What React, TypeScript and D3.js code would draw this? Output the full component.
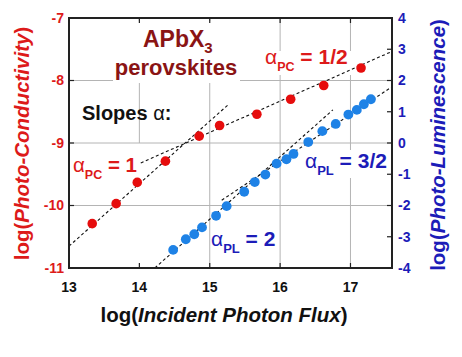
import React from "react";
import * as d3 from "d3";

// Photo-conductivity (left axis)
const pcFlux = [13.33, 13.67, 13.97, 14.37, 14.85, 15.14, 15.67, 16.15, 16.62, 17.15];
const pcLog = [-10.29, -9.97, -9.63, -9.29, -8.89, -8.72, -8.54, -8.3, -8.08, -7.8];

// Photo-luminescence (right axis)
const plFlux = [14.48, 14.66, 14.78, 14.89, 15.09, 15.24, 15.49, 15.64, 15.79, 15.95, 16.09, 16.19, 16.4, 16.6, 16.79, 16.97, 17.09, 17.19, 17.29];
const plLog = [-3.42, -3.08, -2.92, -2.7, -2.33, -2.02, -1.56, -1.25, -1.01, -0.66, -0.52, -0.35, 0.03, 0.38, 0.61, 0.91, 1.06, 1.24, 1.4];

// Power-law fit guides
const fitAxis = ["PC", "PC", "PL", "PL"];
const fitAlpha = [1, 0.5, 2, 1.5];
const fitStartX = [13, 14.02, 14.22, 15.17];
const fitStartY = [-10.65, -9.32, -4, -1.83];
const fitEndX = [15.27, 17.59, 16.75, 17.59];

const xTicks = [13, 14, 15, 16, 17];
const leftTicks = [-11, -10, -9, -8, -7];
const rightTicks = [-4, -3, -2, -1, 0, 1, 2, 3, 4];
const xGrid = [14, 15, 16, 17];
const leftGrid = [-10, -9, -8];

const FONT = "'Liberation Sans', Arial, Helvetica, sans-serif";
const RED = "#dd1a1a";
const RED_PT = "#e60d0d";
const BLUE_TXT = "#1c1cb8";
const BLUE_PT = "#1e82e6";
const MAROON = "#8a1414";

export default function App() {
  const x = d3.scaleLinear().domain([13, 17.59]).range([69, 392]);
  const yL = d3.scaleLinear().domain([-11, -7]).range([268, 18]);
  const yR = d3.scaleLinear().domain([-4, 4]).range([268, 18]);
  const [x0, x1] = x.range();
  const [yb, yt] = yL.range();

  const line = d3.line<[number, number]>();

  return (
    <svg
      width={462}
      height={357}
      style={{ position: "absolute", left: 0, top: 0, background: "#fff" }}
      fontFamily={FONT}
    >
      <rect x={0} y={0} width={462} height={357} fill="#fff" />
      {/* gridlines */}
      {xGrid.map((v) => (
        <line
          key={"gx" + v}
          x1={x(v)}
          x2={x(v)}
          y1={yt}
          y2={v === 14 ? yL(-9) : yb}
          stroke="#b4b4b4"
          strokeWidth={1}
        />
      ))}
      {leftGrid.map((v) => (
        <line key={"gy" + v} x1={x0} x2={x1} y1={yL(v)} y2={yL(v)} stroke="#b4b4b4" strokeWidth={1} />
      ))}
      {/* label backgrounds */}
      <rect x={113} y={21} width={127} height={62} fill="#fff" />
      <rect x={261} y={51} width={90} height={24} fill="#fff" />
      <rect x={302} y={150} width={89} height={28} fill="#fff" />

      {/* fit lines */}
      {fitAlpha.map((a, i) => {
        const ys = fitAxis[i] === "PC" ? yL : yR;
        const yEnd = fitStartY[i] + a * (fitEndX[i] - fitStartX[i]);
        const d = line([
          [x(fitStartX[i]), ys(fitStartY[i])],
          [x(fitEndX[i]), ys(yEnd)],
        ]);
        return <path key={"fit" + i} d={d || ""} stroke="#111" strokeWidth={1.1} strokeDasharray="3,2.5" fill="none" />;
      })}

      {/* points */}
      {pcFlux.map((f, i) => (
        <circle key={"pc" + i} cx={x(f)} cy={yL(pcLog[i])} r={4.8} fill={RED_PT} />
      ))}
      {plFlux.map((f, i) => (
        <circle key={"pl" + i} cx={x(f)} cy={yR(plLog[i])} r={4.9} fill={BLUE_PT} />
      ))}

      {/* frame */}
      <rect x={x0} y={yt} width={x1 - x0} height={yb - yt} fill="none" stroke="#222" strokeWidth={2} />

      {/* ticks */}
      {xTicks.map((v) => (
        <g key={"xt" + v}>
          <line x1={x(v)} x2={x(v)} y1={yb} y2={yb - 5} stroke="#222" strokeWidth={1.2} />
          <line x1={x(v)} x2={x(v)} y1={yt} y2={yt + 5} stroke="#222" strokeWidth={1.2} />
          <text x={x(v)} y={292} textAnchor="middle" fontSize={14} fontWeight="bold" fill="#111">
            {v}
          </text>
        </g>
      ))}
      {leftTicks.map((v) => (
        <g key={"lt" + v}>
          <line x1={x0} x2={x0 + 5} y1={yL(v)} y2={yL(v)} stroke="#222" strokeWidth={1.2} />
          <text x={64} y={yL(v)} dy="0.35em" textAnchor="end" fontSize={14} fontWeight="bold" fill={RED}>
            {v}
          </text>
        </g>
      ))}
      {rightTicks.map((v) => (
        <g key={"rt" + v}>
          <line x1={x1} x2={x1 - 5} y1={yR(v)} y2={yR(v)} stroke="#222" strokeWidth={1.2} />
          <text x={398} y={yR(v)} dy="0.35em" textAnchor="start" fontSize={14} fontWeight="bold" fill={BLUE_TXT}>
            {v}
          </text>
        </g>
      ))}

      {/* axis titles */}
      <text x={224} y={322} textAnchor="middle" fontSize={20.5} fontWeight="bold" fill="#111">
        log(<tspan fontStyle="italic">Incident Photon Flux</tspan>)
      </text>
      <text
        transform={`translate(29,143.5) rotate(-90)`}
        textAnchor="middle"
        fontSize={20.5}
        fontWeight="bold"
        fill={RED}
      >
        log(<tspan fontStyle="italic">Photo-Conductivity</tspan>)
      </text>
      <text
        transform={`translate(445,145) rotate(-90)`}
        textAnchor="middle"
        fontSize={20.5}
        fontWeight="bold"
        fill={BLUE_TXT}
      >
        log(<tspan fontStyle="italic">Photo-Luminescence</tspan>)
      </text>

      {/* annotations */}
      <text x={143} y={47} fontSize={23} fontWeight="bold" fill={MAROON}>
        APbX<tspan fontSize={15} dy={6}>3</tspan>
      </text>
      <text x={176} y={75} textAnchor="middle" fontSize={22} fontWeight="bold" fill={MAROON}>
        perovskites
      </text>
      <text x={82} y={120} fontSize={20} fontWeight="bold" fill="#111">
        Slopes <tspan fontWeight="normal">α</tspan>:
      </text>

      <text x={265} y={63.5} fontSize={21} fontWeight="bold" fill={RED}>
        <tspan fontWeight="normal">α</tspan>
        <tspan fontSize={12.5} dy={7}>PC</tspan>
        <tspan dy={-7}> = 1/2</tspan>
      </text>
      <text x={73} y={171.5} fontSize={20.5} fontWeight="bold" fill={RED}>
        <tspan fontWeight="normal">α</tspan>
        <tspan fontSize={12.5} dy={7}>PC</tspan>
        <tspan dy={-7}> = 1</tspan>
      </text>
      <text x={305} y={167.5} fontSize={21} fontWeight="bold" fill={BLUE_TXT}>
        <tspan fontWeight="normal">α</tspan>
        <tspan fontSize={13} dy={7}>PL</tspan>
        <tspan dy={-7}> = 3/2</tspan>
      </text>
      <text x={211} y={246} fontSize={21} fontWeight="bold" fill={BLUE_TXT}>
        <tspan fontWeight="normal">α</tspan>
        <tspan fontSize={13} dy={7}>PL</tspan>
        <tspan dy={-7}> = 2</tspan>
      </text>
    </svg>
  );
}
